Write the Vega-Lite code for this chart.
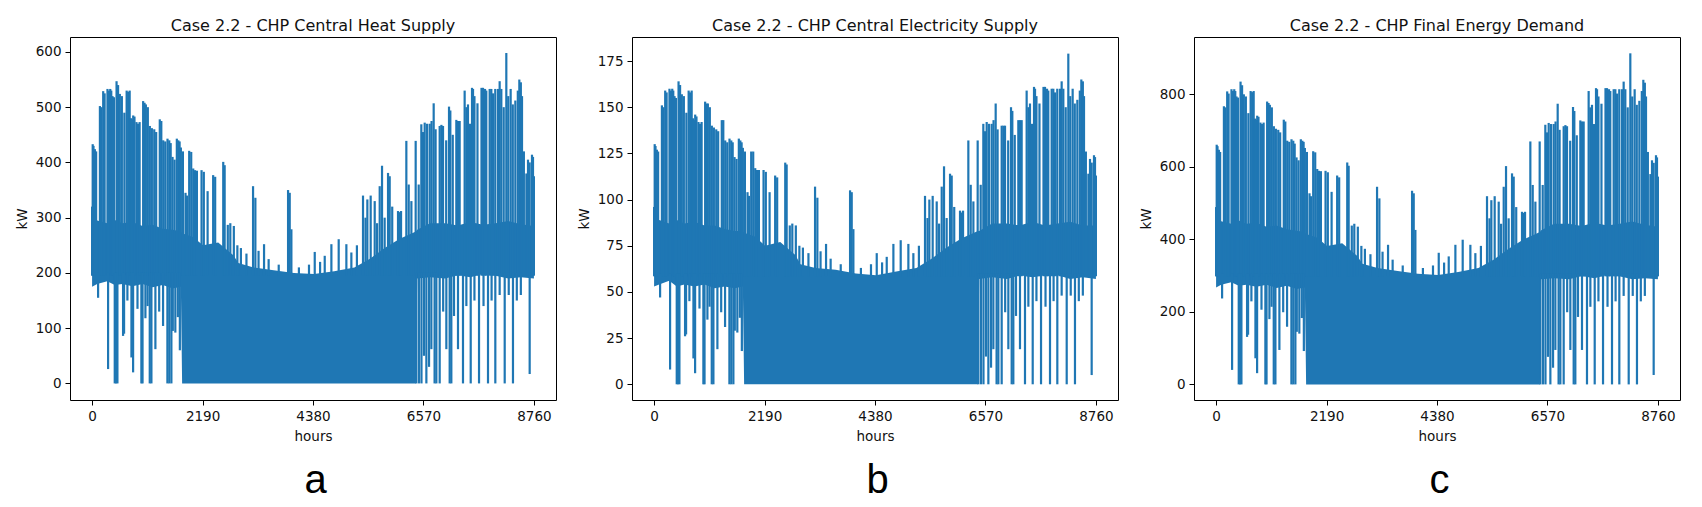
{
  "$schema": "https://vega.github.io/schema/vega-lite/v6.json",
  "background": "white",
  "padding": {"left": 14, "top": 17, "right": 5, "bottom": 5},
  "spacing": 19,
  "datasets": {
    "band": [
      {"h": 0, "al": 175, "ah": 300, "bl": 53, "bh": 90, "cl": 267, "ch": 458},
      {"h": 100, "al": 180, "ah": 295, "bl": 54, "bh": 89, "cl": 275, "ch": 450},
      {"h": 300, "al": 185, "ah": 290, "bl": 56, "bh": 87, "cl": 282, "ch": 443},
      {"h": 450, "al": 178, "ah": 296, "bl": 53, "bh": 89, "cl": 272, "ch": 452},
      {"h": 600, "al": 180, "ah": 290, "bl": 54, "bh": 87, "cl": 275, "ch": 443},
      {"h": 800, "al": 176, "ah": 292, "bl": 53, "bh": 88, "cl": 269, "ch": 446},
      {"h": 1000, "al": 180, "ah": 285, "bl": 54, "bh": 86, "cl": 275, "ch": 435},
      {"h": 1200, "al": 174, "ah": 287, "bl": 52, "bh": 86, "cl": 266, "ch": 438},
      {"h": 1400, "al": 178, "ah": 280, "bl": 53, "bh": 84, "cl": 272, "ch": 428},
      {"h": 1600, "al": 172, "ah": 278, "bl": 52, "bh": 83, "cl": 263, "ch": 424},
      {"h": 1760, "al": 175, "ah": 275, "bl": 53, "bh": 83, "cl": 267, "ch": 420},
      {"h": 1785, "al": 0, "ah": 272, "bl": 0, "bh": 82, "cl": 0, "ch": 415},
      {"h": 2000, "al": 0, "ah": 265, "bl": 0, "bh": 80, "cl": 0, "ch": 405},
      {"h": 2200, "al": 0, "ah": 250, "bl": 0, "bh": 75, "cl": 0, "ch": 382},
      {"h": 2500, "al": 0, "ah": 255, "bl": 0, "bh": 77, "cl": 0, "ch": 389},
      {"h": 2800, "al": 0, "ah": 232, "bl": 0, "bh": 70, "cl": 0, "ch": 354},
      {"h": 2900, "al": 0, "ah": 218, "bl": 0, "bh": 65, "cl": 0, "ch": 333},
      {"h": 3200, "al": 0, "ah": 210, "bl": 0, "bh": 63, "cl": 0, "ch": 321},
      {"h": 3600, "al": 0, "ah": 205, "bl": 0, "bh": 62, "cl": 0, "ch": 313},
      {"h": 4000, "al": 0, "ah": 200, "bl": 0, "bh": 60, "cl": 0, "ch": 305},
      {"h": 4400, "al": 0, "ah": 198, "bl": 0, "bh": 59, "cl": 0, "ch": 302},
      {"h": 4800, "al": 0, "ah": 203, "bl": 0, "bh": 61, "cl": 0, "ch": 310},
      {"h": 5200, "al": 0, "ah": 210, "bl": 0, "bh": 63, "cl": 0, "ch": 321},
      {"h": 5500, "al": 0, "ah": 225, "bl": 0, "bh": 68, "cl": 0, "ch": 344},
      {"h": 5800, "al": 0, "ah": 245, "bl": 0, "bh": 74, "cl": 0, "ch": 374},
      {"h": 6100, "al": 0, "ah": 262, "bl": 0, "bh": 79, "cl": 0, "ch": 400},
      {"h": 6420, "al": 0, "ah": 275, "bl": 0, "bh": 83, "cl": 0, "ch": 420},
      {"h": 6445, "al": 190, "ah": 278, "bl": 57, "bh": 83, "cl": 290, "ch": 425},
      {"h": 6700, "al": 192, "ah": 290, "bl": 58, "bh": 87, "cl": 293, "ch": 443},
      {"h": 7000, "al": 190, "ah": 290, "bl": 57, "bh": 87, "cl": 290, "ch": 443},
      {"h": 7250, "al": 196, "ah": 286, "bl": 59, "bh": 86, "cl": 299, "ch": 437},
      {"h": 7500, "al": 192, "ah": 292, "bl": 58, "bh": 88, "cl": 293, "ch": 446},
      {"h": 7750, "al": 198, "ah": 287, "bl": 59, "bh": 86, "cl": 302, "ch": 438},
      {"h": 8000, "al": 195, "ah": 290, "bl": 59, "bh": 87, "cl": 298, "ch": 443},
      {"h": 8250, "al": 190, "ah": 294, "bl": 57, "bh": 88, "cl": 290, "ch": 449},
      {"h": 8500, "al": 192, "ah": 288, "bl": 58, "bh": 86, "cl": 293, "ch": 440},
      {"h": 8759, "al": 190, "ah": 285, "bl": 57, "bh": 86, "cl": 290, "ch": 435}
    ],
    "ups": [
      {"h": 0, "a": 320, "b": 96, "c": 489},
      {"h": 12, "a": 433, "b": 130, "c": 661},
      {"h": 28, "a": 430, "b": 129, "c": 657},
      {"h": 55, "a": 424, "b": 127, "c": 647},
      {"h": 80, "a": 420, "b": 126, "c": 641},
      {"h": 155, "a": 502, "b": 151, "c": 767},
      {"h": 185, "a": 500, "b": 150, "c": 764},
      {"h": 220, "a": 529, "b": 159, "c": 808},
      {"h": 248, "a": 525, "b": 158, "c": 802},
      {"h": 305, "a": 533, "b": 160, "c": 814},
      {"h": 335, "a": 530, "b": 159, "c": 809},
      {"h": 360, "a": 533, "b": 160, "c": 814},
      {"h": 380, "a": 530, "b": 159, "c": 809},
      {"h": 405, "a": 520, "b": 156, "c": 794},
      {"h": 432, "a": 518, "b": 155, "c": 791},
      {"h": 485, "a": 547, "b": 164, "c": 835},
      {"h": 515, "a": 540, "b": 162, "c": 825},
      {"h": 550, "a": 524, "b": 157, "c": 800},
      {"h": 590, "a": 520, "b": 156, "c": 794},
      {"h": 640, "a": 490, "b": 147, "c": 748},
      {"h": 685, "a": 530, "b": 159, "c": 809},
      {"h": 715, "a": 528, "b": 158, "c": 806},
      {"h": 745, "a": 530, "b": 159, "c": 809},
      {"h": 770, "a": 480, "b": 144, "c": 733},
      {"h": 790, "a": 478, "b": 143, "c": 730},
      {"h": 815, "a": 485, "b": 146, "c": 741},
      {"h": 840, "a": 483, "b": 145, "c": 738},
      {"h": 880, "a": 473, "b": 142, "c": 722},
      {"h": 910, "a": 470, "b": 141, "c": 718},
      {"h": 942, "a": 473, "b": 142, "c": 722},
      {"h": 1012, "a": 511, "b": 153, "c": 780},
      {"h": 1040, "a": 508, "b": 152, "c": 776},
      {"h": 1066, "a": 505, "b": 152, "c": 771},
      {"h": 1105, "a": 500, "b": 150, "c": 764},
      {"h": 1145, "a": 466, "b": 140, "c": 712},
      {"h": 1185, "a": 462, "b": 139, "c": 705},
      {"h": 1232, "a": 460, "b": 138, "c": 702},
      {"h": 1270, "a": 455, "b": 137, "c": 695},
      {"h": 1342, "a": 478, "b": 143, "c": 730},
      {"h": 1372, "a": 475, "b": 143, "c": 725},
      {"h": 1410, "a": 440, "b": 132, "c": 672},
      {"h": 1450, "a": 438, "b": 131, "c": 669},
      {"h": 1495, "a": 443, "b": 133, "c": 676},
      {"h": 1530, "a": 440, "b": 132, "c": 672},
      {"h": 1558, "a": 435, "b": 131, "c": 664},
      {"h": 1595, "a": 410, "b": 123, "c": 626},
      {"h": 1635, "a": 405, "b": 122, "c": 618},
      {"h": 1680, "a": 443, "b": 133, "c": 676},
      {"h": 1710, "a": 440, "b": 132, "c": 672},
      {"h": 1735, "a": 438, "b": 131, "c": 669},
      {"h": 1760, "a": 427, "b": 128, "c": 652},
      {"h": 1800, "a": 420, "b": 126, "c": 641},
      {"h": 1852, "a": 345, "b": 104, "c": 527},
      {"h": 1880, "a": 340, "b": 102, "c": 519},
      {"h": 1925, "a": 421, "b": 126, "c": 643},
      {"h": 1965, "a": 419, "b": 126, "c": 640},
      {"h": 2005, "a": 389, "b": 117, "c": 594},
      {"h": 2040, "a": 386, "b": 116, "c": 589},
      {"h": 2078, "a": 385, "b": 116, "c": 588},
      {"h": 2170, "a": 386, "b": 116, "c": 589},
      {"h": 2215, "a": 383, "b": 115, "c": 585},
      {"h": 2290, "a": 348, "b": 104, "c": 531},
      {"h": 2400, "a": 377, "b": 113, "c": 576},
      {"h": 2440, "a": 374, "b": 112, "c": 571},
      {"h": 2600, "a": 401, "b": 120, "c": 612},
      {"h": 2628, "a": 395, "b": 119, "c": 603},
      {"h": 2690, "a": 287, "b": 86, "c": 438},
      {"h": 2740, "a": 290, "b": 87, "c": 443},
      {"h": 2810, "a": 285, "b": 86, "c": 435},
      {"h": 2880, "a": 250, "b": 75, "c": 382},
      {"h": 2950, "a": 245, "b": 74, "c": 374},
      {"h": 3060, "a": 235, "b": 71, "c": 359},
      {"h": 3191, "a": 357, "b": 107, "c": 545},
      {"h": 3237, "a": 336, "b": 101, "c": 513},
      {"h": 3300, "a": 240, "b": 72, "c": 366},
      {"h": 3409, "a": 252, "b": 76, "c": 385},
      {"h": 3500, "a": 225, "b": 68, "c": 344},
      {"h": 3700, "a": 215, "b": 65, "c": 328},
      {"h": 3885, "a": 350, "b": 105, "c": 534},
      {"h": 3918, "a": 345, "b": 104, "c": 527},
      {"h": 3951, "a": 279, "b": 84, "c": 426},
      {"h": 4100, "a": 210, "b": 63, "c": 321},
      {"h": 4300, "a": 215, "b": 65, "c": 328},
      {"h": 4414, "a": 238, "b": 71, "c": 363},
      {"h": 4520, "a": 220, "b": 66, "c": 336},
      {"h": 4612, "a": 231, "b": 69, "c": 353},
      {"h": 4744, "a": 252, "b": 76, "c": 385},
      {"h": 4889, "a": 261, "b": 78, "c": 399},
      {"h": 5041, "a": 252, "b": 76, "c": 385},
      {"h": 5140, "a": 237, "b": 71, "c": 362},
      {"h": 5250, "a": 250, "b": 75, "c": 382},
      {"h": 5371, "a": 340, "b": 102, "c": 519},
      {"h": 5420, "a": 300, "b": 90, "c": 458},
      {"h": 5457, "a": 333, "b": 100, "c": 508},
      {"h": 5523, "a": 340, "b": 102, "c": 519},
      {"h": 5603, "a": 330, "b": 99, "c": 504},
      {"h": 5650, "a": 290, "b": 87, "c": 443},
      {"h": 5702, "a": 357, "b": 107, "c": 545},
      {"h": 5748, "a": 394, "b": 118, "c": 602},
      {"h": 5800, "a": 300, "b": 90, "c": 458},
      {"h": 5867, "a": 381, "b": 114, "c": 582},
      {"h": 5900, "a": 375, "b": 113, "c": 573},
      {"h": 5950, "a": 320, "b": 96, "c": 489},
      {"h": 6065, "a": 312, "b": 94, "c": 476},
      {"h": 6095, "a": 310, "b": 93, "c": 473},
      {"h": 6125, "a": 312, "b": 94, "c": 476},
      {"h": 6230, "a": 439, "b": 132, "c": 670},
      {"h": 6277, "a": 360, "b": 108, "c": 550},
      {"h": 6330, "a": 330, "b": 99, "c": 504},
      {"h": 6415, "a": 439, "b": 132, "c": 670},
      {"h": 6475, "a": 360, "b": 108, "c": 550},
      {"h": 6527, "a": 469, "b": 141, "c": 716},
      {"h": 6560, "a": 455, "b": 137, "c": 695},
      {"h": 6594, "a": 472, "b": 142, "c": 721},
      {"h": 6640, "a": 470, "b": 141, "c": 718},
      {"h": 6693, "a": 470, "b": 141, "c": 718},
      {"h": 6730, "a": 475, "b": 143, "c": 725},
      {"h": 6772, "a": 507, "b": 152, "c": 774},
      {"h": 6810, "a": 460, "b": 138, "c": 702},
      {"h": 6891, "a": 466, "b": 140, "c": 712},
      {"h": 6925, "a": 468, "b": 140, "c": 715},
      {"h": 6957, "a": 466, "b": 140, "c": 712},
      {"h": 7020, "a": 440, "b": 132, "c": 672},
      {"h": 7076, "a": 501, "b": 150, "c": 765},
      {"h": 7102, "a": 494, "b": 148, "c": 754},
      {"h": 7150, "a": 450, "b": 135, "c": 687},
      {"h": 7221, "a": 477, "b": 143, "c": 728},
      {"h": 7255, "a": 475, "b": 143, "c": 725},
      {"h": 7287, "a": 475, "b": 143, "c": 725},
      {"h": 7386, "a": 530, "b": 159, "c": 809},
      {"h": 7420, "a": 500, "b": 150, "c": 764},
      {"h": 7452, "a": 505, "b": 152, "c": 771},
      {"h": 7490, "a": 470, "b": 141, "c": 718},
      {"h": 7532, "a": 535, "b": 161, "c": 817},
      {"h": 7552, "a": 533, "b": 160, "c": 814},
      {"h": 7580, "a": 520, "b": 156, "c": 794},
      {"h": 7640, "a": 507, "b": 152, "c": 774},
      {"h": 7720, "a": 535, "b": 161, "c": 817},
      {"h": 7750, "a": 535, "b": 161, "c": 817},
      {"h": 7790, "a": 533, "b": 160, "c": 814},
      {"h": 7815, "a": 530, "b": 159, "c": 809},
      {"h": 7882, "a": 533, "b": 160, "c": 814},
      {"h": 7915, "a": 533, "b": 160, "c": 814},
      {"h": 7950, "a": 525, "b": 158, "c": 802},
      {"h": 7993, "a": 533, "b": 160, "c": 814},
      {"h": 8047, "a": 533, "b": 160, "c": 814},
      {"h": 8080, "a": 547, "b": 164, "c": 835},
      {"h": 8113, "a": 533, "b": 160, "c": 814},
      {"h": 8160, "a": 500, "b": 150, "c": 764},
      {"h": 8212, "a": 598, "b": 179, "c": 913},
      {"h": 8250, "a": 520, "b": 156, "c": 794},
      {"h": 8298, "a": 533, "b": 160, "c": 814},
      {"h": 8340, "a": 505, "b": 152, "c": 771},
      {"h": 8391, "a": 512, "b": 154, "c": 782},
      {"h": 8440, "a": 530, "b": 159, "c": 809},
      {"h": 8470, "a": 550, "b": 165, "c": 840},
      {"h": 8500, "a": 545, "b": 164, "c": 832},
      {"h": 8523, "a": 520, "b": 156, "c": 794},
      {"h": 8560, "a": 420, "b": 126, "c": 641},
      {"h": 8610, "a": 380, "b": 114, "c": 580},
      {"h": 8642, "a": 405, "b": 122, "c": 618},
      {"h": 8675, "a": 400, "b": 120, "c": 611},
      {"h": 8721, "a": 414, "b": 124, "c": 632},
      {"h": 8741, "a": 410, "b": 123, "c": 626},
      {"h": 8759, "a": 375, "b": 113, "c": 573}
    ],
    "downs": [
      {"h": 119, "a": 155, "b": 47, "c": 237},
      {"h": 317, "a": 26, "b": 8, "c": 40},
      {"h": 449, "a": 0, "b": 0, "c": 0},
      {"h": 475, "a": 0, "b": 0, "c": 0},
      {"h": 502, "a": 0, "b": 0, "c": 0},
      {"h": 614, "a": 86, "b": 26, "c": 131},
      {"h": 634, "a": 90, "b": 27, "c": 137},
      {"h": 700, "a": 150, "b": 45, "c": 229},
      {"h": 780, "a": 47, "b": 14, "c": 72},
      {"h": 813, "a": 20, "b": 6, "c": 31},
      {"h": 900, "a": 135, "b": 41, "c": 206},
      {"h": 977, "a": 0, "b": 0, "c": 0},
      {"h": 1000, "a": 0, "b": 0, "c": 0},
      {"h": 1057, "a": 118, "b": 35, "c": 180},
      {"h": 1100, "a": 140, "b": 42, "c": 214},
      {"h": 1143, "a": 0, "b": 0, "c": 0},
      {"h": 1176, "a": 0, "b": 0, "c": 0},
      {"h": 1255, "a": 62, "b": 19, "c": 95},
      {"h": 1330, "a": 130, "b": 39, "c": 199},
      {"h": 1407, "a": 104, "b": 31, "c": 159},
      {"h": 1493, "a": 0, "b": 0, "c": 0},
      {"h": 1530, "a": 0, "b": 0, "c": 0},
      {"h": 1572, "a": 0, "b": 0, "c": 0},
      {"h": 1600, "a": 95, "b": 29, "c": 145},
      {"h": 1650, "a": 92, "b": 28, "c": 140},
      {"h": 1700, "a": 120, "b": 36, "c": 183},
      {"h": 1740, "a": 60, "b": 18, "c": 92},
      {"h": 6428, "a": 0, "b": 0, "c": 0},
      {"h": 6480, "a": 0, "b": 0, "c": 0},
      {"h": 6530, "a": 0, "b": 0, "c": 0},
      {"h": 6580, "a": 50, "b": 15, "c": 76},
      {"h": 6627, "a": 0, "b": 0, "c": 0},
      {"h": 6680, "a": 30, "b": 9, "c": 46},
      {"h": 6726, "a": 62, "b": 19, "c": 95},
      {"h": 6790, "a": 0, "b": 0, "c": 0},
      {"h": 6825, "a": 0, "b": 0, "c": 0},
      {"h": 6891, "a": 0, "b": 0, "c": 0},
      {"h": 6960, "a": 130, "b": 39, "c": 199},
      {"h": 7023, "a": 62, "b": 19, "c": 95},
      {"h": 7089, "a": 0, "b": 0, "c": 0},
      {"h": 7122, "a": 0, "b": 0, "c": 0},
      {"h": 7175, "a": 122, "b": 37, "c": 186},
      {"h": 7254, "a": 62, "b": 19, "c": 95},
      {"h": 7353, "a": 0, "b": 0, "c": 0},
      {"h": 7420, "a": 140, "b": 42, "c": 214},
      {"h": 7506, "a": 0, "b": 0, "c": 0},
      {"h": 7580, "a": 150, "b": 45, "c": 229},
      {"h": 7671, "a": 0, "b": 0, "c": 0},
      {"h": 7760, "a": 140, "b": 42, "c": 214},
      {"h": 7849, "a": 0, "b": 0, "c": 0},
      {"h": 7920, "a": 150, "b": 45, "c": 229},
      {"h": 7994, "a": 0, "b": 0, "c": 0},
      {"h": 8080, "a": 160, "b": 48, "c": 244},
      {"h": 8180, "a": 0, "b": 0, "c": 0},
      {"h": 8260, "a": 160, "b": 48, "c": 244},
      {"h": 8344, "a": 0, "b": 0, "c": 0},
      {"h": 8420, "a": 150, "b": 45, "c": 229},
      {"h": 8500, "a": 160, "b": 48, "c": 244},
      {"h": 8675, "a": 17, "b": 5, "c": 26}
    ]
  },
  "hconcat": [
    {
      "title": {"text": "a", "orient": "bottom", "anchor": "middle", "dx": 30, "font": "Liberation Sans", "fontSize": 40, "fontWeight": "normal", "color": "#000", "offset": 17},
      "vconcat": [
        {
          "title": "Case 2.2 - CHP Central Heat Supply",
          "width": 486,
          "height": 363,
          "layer": [
            {
              "data": {"name": "band"},
              "mark": {"type": "area", "color": "#1f77b4"},
              "encoding": {
                "x": {"field": "h", "type": "quantitative", "scale": {"domain": [-438, 9197], "nice": false, "zero": false}, "axis": {"values": [0, 2190, 4380, 6570, 8760], "format": "d", "title": "hours"}},
                "y": {"field": "al", "type": "quantitative", "scale": {"domain": [-30, 627], "nice": false, "zero": false}, "axis": {"values": [0, 100, 200, 300, 400, 500, 600], "title": "kW"}},
                "y2": {"field": "ah"}
              }
            },
            {
              "data": {"name": "ups"},
              "mark": {"type": "rule", "color": "#1f77b4", "strokeWidth": 2.2},
              "encoding": {
                "x": {"field": "h", "type": "quantitative", "scale": {"domain": [-438, 9197], "nice": false, "zero": false}},
                "y": {"field": "a", "type": "quantitative", "scale": {"domain": [-30, 627], "nice": false, "zero": false}},
                "y2": {"datum": 195}
              }
            },
            {
              "data": {"name": "downs"},
              "mark": {"type": "rule", "color": "#1f77b4", "strokeWidth": 2.2},
              "encoding": {
                "x": {"field": "h", "type": "quantitative", "scale": {"domain": [-438, 9197], "nice": false, "zero": false}},
                "y": {"field": "a", "type": "quantitative", "scale": {"domain": [-30, 627], "nice": false, "zero": false}},
                "y2": {"datum": 200}
              }
            }
          ]
        }
      ]
    },
    {
      "title": {"text": "b", "orient": "bottom", "anchor": "middle", "dx": 30, "font": "Liberation Sans", "fontSize": 40, "fontWeight": "normal", "color": "#000", "offset": 17},
      "vconcat": [
        {
          "title": "Case 2.2 - CHP Central Electricity Supply",
          "width": 486,
          "height": 363,
          "layer": [
            {
              "data": {"name": "band"},
              "mark": {"type": "area", "color": "#1f77b4"},
              "encoding": {
                "x": {"field": "h", "type": "quantitative", "scale": {"domain": [-438, 9197], "nice": false, "zero": false}, "axis": {"values": [0, 2190, 4380, 6570, 8760], "format": "d", "title": "hours"}},
                "y": {"field": "bl", "type": "quantitative", "scale": {"domain": [-8.5, 188], "nice": false, "zero": false}, "axis": {"values": [0, 25, 50, 75, 100, 125, 150, 175], "title": "kW"}},
                "y2": {"field": "bh"}
              }
            },
            {
              "data": {"name": "ups"},
              "mark": {"type": "rule", "color": "#1f77b4", "strokeWidth": 2.2},
              "encoding": {
                "x": {"field": "h", "type": "quantitative", "scale": {"domain": [-438, 9197], "nice": false, "zero": false}},
                "y": {"field": "b", "type": "quantitative", "scale": {"domain": [-8.5, 188], "nice": false, "zero": false}},
                "y2": {"datum": 58.5}
              }
            },
            {
              "data": {"name": "downs"},
              "mark": {"type": "rule", "color": "#1f77b4", "strokeWidth": 2.2},
              "encoding": {
                "x": {"field": "h", "type": "quantitative", "scale": {"domain": [-438, 9197], "nice": false, "zero": false}},
                "y": {"field": "b", "type": "quantitative", "scale": {"domain": [-8.5, 188], "nice": false, "zero": false}},
                "y2": {"datum": 60}
              }
            }
          ]
        }
      ]
    },
    {
      "title": {"text": "c", "orient": "bottom", "anchor": "middle", "dx": 30, "font": "Liberation Sans", "fontSize": 40, "fontWeight": "normal", "color": "#000", "offset": 17},
      "vconcat": [
        {
          "title": "Case 2.2 - CHP Final Energy Demand",
          "width": 486,
          "height": 363,
          "layer": [
            {
              "data": {"name": "band"},
              "mark": {"type": "area", "color": "#1f77b4"},
              "encoding": {
                "x": {"field": "h", "type": "quantitative", "scale": {"domain": [-438, 9197], "nice": false, "zero": false}, "axis": {"values": [0, 2190, 4380, 6570, 8760], "format": "d", "title": "hours"}},
                "y": {"field": "cl", "type": "quantitative", "scale": {"domain": [-43, 958], "nice": false, "zero": false}, "axis": {"values": [0, 200, 400, 600, 800], "title": "kW"}},
                "y2": {"field": "ch"}
              }
            },
            {
              "data": {"name": "ups"},
              "mark": {"type": "rule", "color": "#1f77b4", "strokeWidth": 2.2},
              "encoding": {
                "x": {"field": "h", "type": "quantitative", "scale": {"domain": [-438, 9197], "nice": false, "zero": false}},
                "y": {"field": "c", "type": "quantitative", "scale": {"domain": [-43, 958], "nice": false, "zero": false}},
                "y2": {"datum": 298}
              }
            },
            {
              "data": {"name": "downs"},
              "mark": {"type": "rule", "color": "#1f77b4", "strokeWidth": 2.2},
              "encoding": {
                "x": {"field": "h", "type": "quantitative", "scale": {"domain": [-438, 9197], "nice": false, "zero": false}},
                "y": {"field": "c", "type": "quantitative", "scale": {"domain": [-43, 958], "nice": false, "zero": false}},
                "y2": {"datum": 305}
              }
            }
          ]
        }
      ]
    }
  ],
  "config": {
    "font": "DejaVu Sans",
    "view": {"stroke": "#000", "strokeWidth": 1},
    "axis": {
      "grid": false,
      "domain": false,
      "tickColor": "#000",
      "tickSize": 5,
      "tickWidth": 1,
      "labelFont": "DejaVu Sans",
      "labelFontSize": 13.5,
      "labelColor": "#111",
      "labelPadding": 4,
      "titleFont": "DejaVu Sans",
      "titleFontSize": 13.5,
      "titleFontWeight": "normal",
      "titleColor": "#111"
    },
    "axisX": {"titlePadding": 7, "labelFlush": false},
    "axisY": {"titlePadding": 6},
    "title": {"font": "DejaVu Sans", "fontSize": 16, "fontWeight": "normal", "color": "#111", "offset": 3}
  }
}
